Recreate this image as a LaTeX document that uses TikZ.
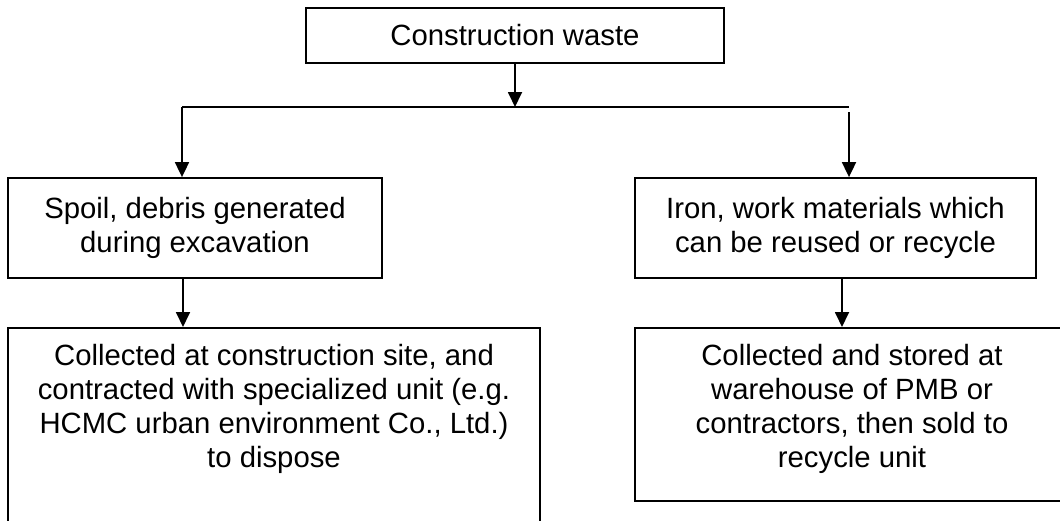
\documentclass[tikz,border=0pt]{standalone}
\usepackage{fontspec}
\setmainfont{Liberation Sans}
\usetikzlibrary{arrows.meta}
\begin{document}
\begin{tikzpicture}[x=1pt,y=-1pt,
  box/.style={draw=black, line width=1.8pt, rectangle, inner sep=0pt, align=center,
    font=\fontsize{29.3}{34}\selectfont},
  arr/.style={line width=1.8pt, -{Triangle[length=15pt,width=14pt]}},
  ln/.style={line width=1.8pt}]
\useasboundingbox (0,0) rectangle (1060,520);
\clip (0,0) rectangle (1060,520);
\fill[white] (0,0) rectangle (1060,520);

% boxes
\node[box, minimum width=418pt, minimum height=55pt] (top) at (515,35.5) {Construction waste};
\node[box, minimum width=374pt, minimum height=100pt] (l2) at (195,228)
  {Spoil, debris generated\\during excavation};
\node[box, minimum width=401pt, minimum height=100pt] (r2) at (835.5,228)
  {Iron, work materials which\\can be reused or recycle};
\node[box, anchor=north, inner xsep=0pt, inner ysep=16.5pt] (l3) at (274,327)
  {\parbox[t][180pt][t]{532pt}{\centering
   Collected at construction site, and\\
   contracted with specialized unit (e.g.\\
   HCMC urban environment Co., Ltd.)\\
   to dispose}};
\node[box, anchor=north, inner xsep=0pt, inner ysep=16.5pt] (r3) at (852,327)
  {\parbox[t][140pt][t]{434pt}{\centering
   Collected and stored at\\
   warehouse of PMB or\\
   contractors, then sold to\\
   recycle unit}};

% connectors
\coordinate (jm) at (515,107);
\coordinate (jl) at (182,107);
\coordinate (jr) at (849,107);
\coordinate (jr2) at (849,112);
\draw[arr] (top.south) -- (jm);
\draw[ln] (jl) -- (jr);
\draw[arr] (jl) -- (jl |- l2.north);
\draw[arr] (jr2) -- (jr2 |- r2.north);
\draw[arr] ([xshift=-12pt]l2.south) -- ([xshift=-12pt]l2.south |- l3.north);
\draw[arr] ([xshift=6.5pt]r2.south) -- ([xshift=6.5pt]r2.south |- r3.north);
\end{tikzpicture}
\end{document}
